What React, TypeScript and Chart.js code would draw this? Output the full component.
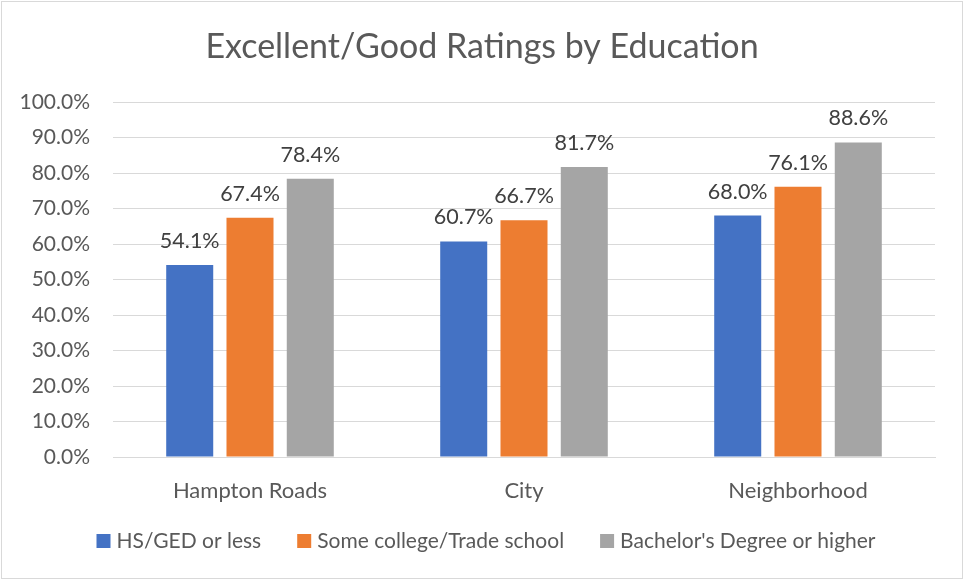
import React, { useEffect, useRef } from "react";
import { Chart, registerables } from "chart.js";

Chart.register(...registerables);

const categories = ["Hampton Roads", "City", "Neighborhood"];
const seriesNames = ["HS/GED or less", "Some college/Trade school", "Bachelor's Degree or higher"];
const hsGed = [54.1, 60.7, 68.0];
const someCollege = [67.4, 66.7, 76.1];
const bachelors = [78.4, 81.7, 88.6];
const colors = ["#4472C4", "#ED7D31", "#A5A5A5"];
const titleText = "Excellent/Good Ratings by Education";

const FONT = "Lato";
const TEXT = "#595959";

const framePlugin = {
  id: "frame",
  beforeDraw(chart: any) {
    const ctx = chart.ctx;
    ctx.save();
    ctx.fillStyle = "#ffffff";
    ctx.fillRect(0, 0, chart.width, chart.height);
    ctx.strokeStyle = "#d9d9d9";
    ctx.lineWidth = 1;
    ctx.strokeRect(1.5, 1.5, chart.width - 3, chart.height - 3);
    ctx.restore();
  },
};

const decorPlugin = {
  id: "decor",
  afterDraw(chart: any) {
    const ctx = chart.ctx;
    ctx.save();
    // title
    ctx.fillStyle = TEXT;
    ctx.font = `34px ${FONT}`;
    ctx.textAlign = "center";
    ctx.textBaseline = "middle";
    ctx.fillText(titleText, 482, 47);

    // data labels
    ctx.font = `21.5px ${FONT}`;
    ctx.fillStyle = "#404040";
    chart.data.datasets.forEach((ds: any, i: number) => {
      const meta = chart.getDatasetMeta(i);
      meta.data.forEach((bar: any, j: number) => {
        const v = ds.data[j];
        ctx.fillText(v.toFixed(1) + "%", bar.x, bar.y - 24);
      });
    });

    // legend
    ctx.font = `21px ${FONT}`;
    ctx.fillStyle = TEXT;
    ctx.textAlign = "left";
    const box = 14;
    const gapBox = 6;
    const gapItem = 36;
    const widths = chart.data.datasets.map((ds: any) => ctx.measureText(ds.label).width);
    const total = widths.reduce((a: number, w: number) => a + box + gapBox + w, 0) + gapItem * (widths.length - 1);
    let x = 486 - total / 2;
    const y = 541;
    chart.data.datasets.forEach((ds: any, i: number) => {
      ctx.fillStyle = ds.backgroundColor;
      ctx.fillRect(x, y - box / 2, box, box);
      ctx.fillStyle = TEXT;
      ctx.fillText(ds.label, x + box + gapBox, y);
      x += box + gapBox + widths[i] + gapItem;
    });
    ctx.restore();
  },
};

export default function App() {
  const ref = useRef<HTMLCanvasElement | null>(null);
  useEffect(() => {
    if (!ref.current) return;
    const values = [hsGed, someCollege, bachelors];
    const chart = new Chart(ref.current, {
      type: "bar",
      data: {
        labels: categories,
        datasets: seriesNames.map((name, i) => ({
          label: name,
          data: values[i],
          backgroundColor: colors[i],
          borderWidth: 0,
          categoryPercentage: 0.66,
          barPercentage: 0.78,
        })),
      },
      options: {
        responsive: false,
        animation: false,
        devicePixelRatio: 1,
        layout: { padding: { left: 0, right: 29, top: 102, bottom: 63 } },
        plugins: {
          legend: { display: false },
          title: { display: false },
          tooltip: { enabled: false },
        },
        scales: {
          x: {
            grid: { display: false, drawTicks: false },
            border: { display: true, color: "#d9d9d9", width: 1 },
            ticks: { color: TEXT, font: { family: FONT, size: 22 }, padding: 21 },
            afterFit: (s: any) => { s.height = 60; },
          },
          y: {
            min: 0,
            max: 100,
            ticks: {
              stepSize: 10,
              color: TEXT,
              font: { family: FONT, size: 21 },
              padding: 23,
              callback: (v: any) => Number(v).toFixed(1) + "%",
            },
            grid: { color: "#d9d9d9", drawTicks: false },
            border: { display: false },
            afterFit: (s: any) => { s.width = 113; },
          },
        },
      },
      plugins: [framePlugin, decorPlugin],
    });
    return () => chart.destroy();
  }, []);
  return (
    <div style={{ position: "absolute", left: 0, top: 0, width: 964, height: 580 }}>
      <canvas ref={ref} width={964} height={580} style={{ display: "block" }} />
    </div>
  );
}
